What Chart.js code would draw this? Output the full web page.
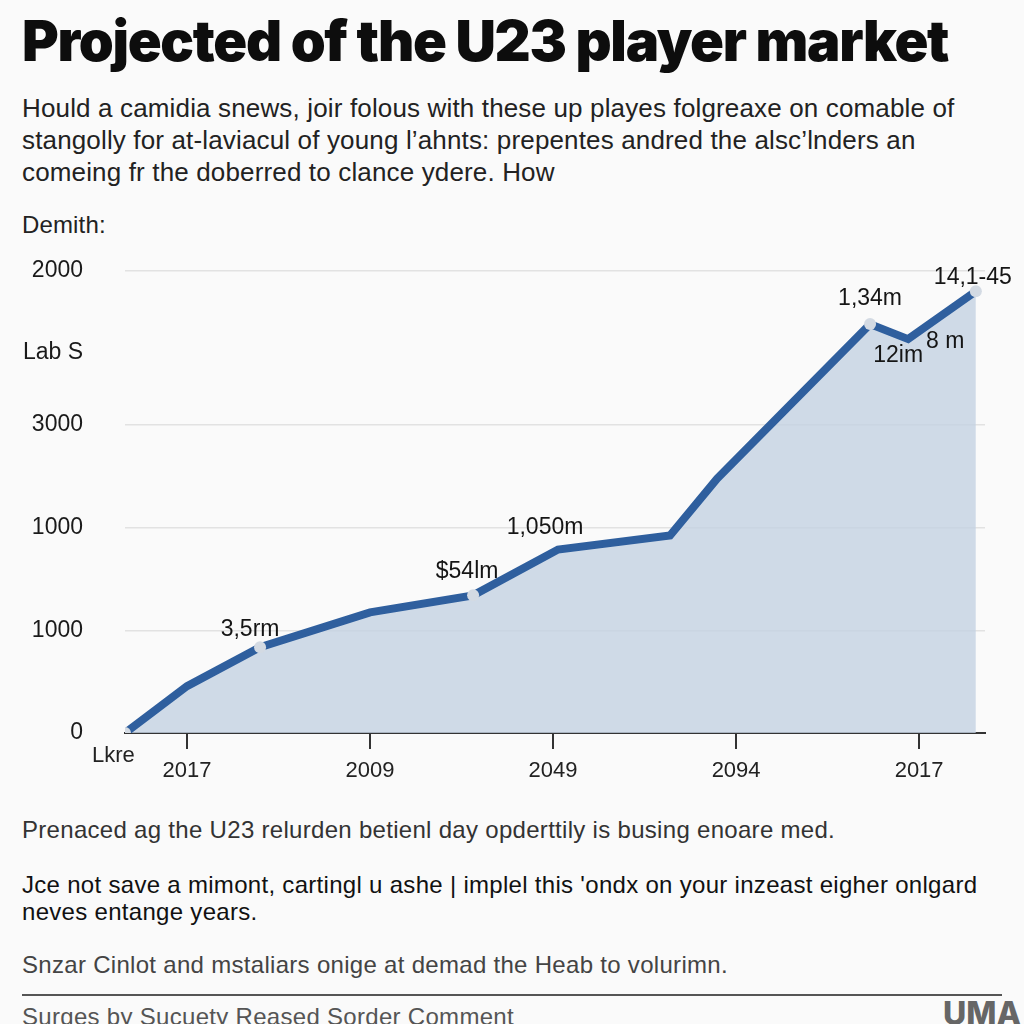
<!DOCTYPE html>
<html>
<head>
<meta charset="UTF-8">
<script src="https://cdn.jsdelivr.net/npm/chart.js@4.4.1/dist/chart.umd.min.js"></script>
<style>
  * { margin: 0; padding: 0; box-sizing: border-box; }
  body { width: 1024px; height: 1024px; background: #fafafa; font-family: 'Liberation Sans', Arial, sans-serif; color: #1a1a1a; position: relative; overflow: hidden; }
  .abs { position: absolute; white-space: nowrap; }
  #titulo { left: 22px; top: 7px; font-family: Inter, 'Noto Sans', sans-serif; font-weight: 900; font-size: 56px; letter-spacing: -1.3px; color: #0d0d0d; }
  .sub { left: 22px; font-size: 26px; color: #222; letter-spacing: 0.15px; }
  #wrap { position: absolute; left: 0; top: 215px; width: 1024px; height: 585px; }
  .nota { left: 22px; font-size: 24px; letter-spacing: 0.3px; }
  #linea { position: absolute; left: 22px; top: 994px; width: 980px; height: 2px; background: #555; }
</style>
</head>
<body>
<div id="titulo" class="abs">Projected of the U23 player market</div>
<div class="abs sub" style="top:93px">Hould a camidia snews, joir folous with these up playes folgreaxe on comable of</div>
<div class="abs sub" style="top:125px">stangolly for at-laviacul of young l’ahnts: prepentes andred the alsc’lnders an</div>
<div class="abs sub" style="top:157px">comeing fr the doberred to clance ydere. How</div>
<div class="abs sub" style="top:211px; font-size:24px">Demith:</div>

<div id="wrap"><canvas id="grafica" width="1024" height="585"></canvas></div>
<div class="abs" style="left:92px; top:742px; font-size:22px; color:#222">Lkre</div>

<div class="abs nota" style="top:816px; color:#333">Prenaced ag the U23 relurden betienl day opderttily is busing enoare med.</div>
<div class="abs nota" style="top:871px; color:#111">Jce not save a mimont, cartingl u ashe | implel this 'ondx on your inzeast eigher onlgard</div>
<div class="abs nota" style="top:898px; color:#111">neves entange years.</div>
<div class="abs nota" style="top:951px; color:#444">Snzar Cinlot and mstaliars onige at demad the Heab to volurimn.</div>
<div id="linea"></div>
<div class="abs nota" style="top:1003px; color:#555">Surges by Sucuety Reased Sorder Comment</div>
<div class="abs" style="left:943px; top:994px; font-size:32px; font-weight:800; color:#666; font-family:Inter, sans-serif">UMA</div>

<script>
'use strict';

// Posiciones en x (unidades de tick) y valores en y
const puntosX = [-0.339, 0, 0.399, 1.0, 1.563, 2.027, 2.639, 2.896, 3.732, 3.940, 4.31];
const valoresY = [0, 456, 835, 1175, 1340, 1786, 1922, 2476, 3981, 3835, 4300];
const conMarcador = [1, 0, 1, 0, 1, 0, 0, 0, 1, 0, 1];

const etiquetasX = ['2017', '2009', '2049', '2094', '2017'];
const ticksXVal = [0, 1, 2, 3, 4];
const ticksYVal = [0, 1000, 2000, 3000, 3700, 4500];
const etiquetasY = ['0', '1000', '1000', '3000', 'Lab S', '2000'];

// Anotaciones sobre la línea
const anotTextos = ['3,5rm', '$54lm', '1,050m', '1,34m', '12im', '8 m', '14,1-45'];
const anotPunto = [2, 4, 5, 8, 9, 9, 10];
const anotDx = [-10, -6, -13, 0, -10, 37, -3];
const anotDy = [-18, -24, -22, -25, 17, 3, -14];

const pluginAnotaciones = {
  id: 'anotaciones',
  afterDatasetsDraw(chart) {
    const { ctx, scales } = chart;
    ctx.save();
    ctx.font = '23px "Liberation Sans", Arial, sans-serif';
    ctx.fillStyle = '#151515';
    ctx.textAlign = 'center';
    ctx.textBaseline = 'middle';
    anotTextos.forEach((t, i) => {
      const p = anotPunto[i];
      const x = scales.x.getPixelForValue(puntosX[p]) + anotDx[i];
      const y = scales.y.getPixelForValue(valoresY[p]) + anotDy[i];
      ctx.fillText(t, x, y);
    });
    ctx.restore();
  }
};

new Chart(document.getElementById('grafica'), {
  type: 'line',
  data: {
    datasets: [{
      data: puntosX.map((x, i) => ({ x, y: valoresY[i] })),
      borderColor: '#2f5f9e',
      borderWidth: 8,
      backgroundColor: 'rgba(196,210,226,0.8)',
      fill: 'origin',
      tension: 0,
      pointRadius: conMarcador.map(m => m ? 6 : 0),
      pointBackgroundColor: '#d3dae3',
      pointBorderWidth: 0,
      pointHoverRadius: 0
    }]
  },
  options: {
    responsive: false,
    animation: false,
    layout: { padding: { top: 20, right: 39, left: 0, bottom: 0 } },
    plugins: { legend: { display: false }, tooltip: { enabled: false } },
    scales: {
      x: {
        type: 'linear',
        min: -0.339,
        max: 4.36,
        afterBuildTicks: s => { s.ticks = ticksXVal.map(v => ({ value: v })); },
        afterFit: s => { s.height = 67; },
        grid: { drawOnChartArea: false, drawTicks: true, tickLength: 16, color: '#333', lineWidth: 2 },
        border: { display: true, color: '#333', width: 2 },
        ticks: {
          padding: 9,
          color: '#222',
          font: { size: 22, family: '"Liberation Sans", Arial, sans-serif' },
          callback: v => etiquetasX[ticksXVal.indexOf(v)] ?? ''
        }
      },
      y: {
        min: 0,
        max: 4500,
        afterBuildTicks: s => { s.ticks = ticksYVal.map(v => ({ value: v })); },
        afterFit: s => { s.width = 125; },
        grid: {
          drawTicks: false,
          color: c => (c.tick && c.tick.value === 3700) ? 'rgba(0,0,0,0)' : '#e2e2e2',
          lineWidth: 1.5
        },
        border: { display: false },
        ticks: {
          padding: 42,
          color: '#1a1a1a',
          font: { size: 23, family: '"Liberation Sans", Arial, sans-serif' },
          callback: v => etiquetasY[ticksYVal.indexOf(v)] ?? ''
        }
      }
    }
  },
  plugins: [pluginAnotaciones]
});
</script>
</body>
</html>
